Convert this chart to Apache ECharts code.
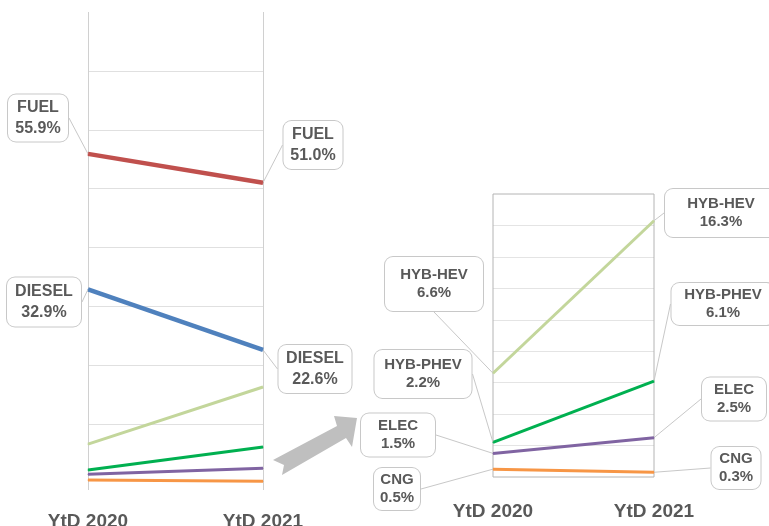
<!DOCTYPE html>
<html>
<head>
<meta charset="utf-8">
<script src="https://cdn.jsdelivr.net/npm/echarts@6/dist/echarts.min.js"></script>
<style>
  html, body { margin: 0; padding: 0; background: #fff; }
  #chart { width: 769px; height: 526px; }
</style>
</head>
<body>
<div id="chart"></div>
<script>
var categories = ['YtD 2020', 'YtD 2021'];
var fuel = [55.9, 51.0];
var diesel = [32.9, 22.6];
var hybHev = [6.6, 16.3];
var hybPhev = [2.2, 6.1];
var elec = [1.5, 2.5];
var cng = [0.5, 0.3];

// callout boxes: [centerX, centerY, width, height] for each point
var boxes = {
  FUEL: [[38, 118, 60, 47], [313, 145, 59, 48]],
  DIESEL: [[44, 302, 74, 49], [315, 369, 73, 48]],
  'HYB-HEV': [[434, 284, 98, 54], [721, 213, 112, 48]],
  'HYB-PHEV': [[423, 374, 97, 48], [723, 304, 103, 42]],
  ELEC: [[398, 435, 74, 43], [734, 399, 64, 43]],
  CNG: [[397, 489, 46, 42], [736, 468, 49, 42]]
};

var colors = {
  FUEL: '#c0504d', DIESEL: '#4f81bd', 'HYB-HEV': '#c3d69b',
  'HYB-PHEV': '#00b050', ELEC: '#8064a2', CNG: '#f79646'
};

var font = 'Liberation Sans, Arial, sans-serif';
var textColor = '#595959';

var myChart = echarts.init(document.getElementById('chart'));

function makeSeries(name, values, grid, width, withLabels) {
  var fs = grid === 0 ? 16 : 15;
  var lh = grid === 0 ? 21 : 18;
  var data = values.map(function (v, i) {
    var item = { value: v };
    if (withLabels) {
      var b = boxes[name][i];
      var pv = Math.max(0, (b[3] - 2 * lh) / 2);
      item.label = { width: b[2], padding: [pv, 0, pv, 0] };
    }
    return item;
  });
  return {
    name: name,
    type: 'line',
    xAxisIndex: grid,
    yAxisIndex: grid,
    data: data,
    symbol: 'circle',
    symbolSize: 1,
    showSymbol: true,
    itemStyle: { color: colors[name] },
    lineStyle: { color: colors[name], width: width },
    emphasis: { disabled: true },
    z: grid === 0 ? 2 : 3,
    label: {
      show: withLabels,
      formatter: function (p) {
        return p.seriesName + '\n' + p.value.toFixed(1) + '%';
      },
      fontFamily: font,
      fontWeight: 'bold',
      fontSize: fs,
      lineHeight: lh,
      color: textColor,
      align: 'center',
      verticalAlign: 'middle',
      backgroundColor: '#fff',
      borderColor: '#c8c8c8',
      borderWidth: 1,
      borderRadius: 8
    },
    labelLine: {
      show: withLabels,
      lineStyle: { color: '#c8c8c8', width: 1 }
    },
    labelLayout: withLabels ? function (params) {
      var b = boxes[name][params.dataIndex];
      return { x: b[0], y: b[1], hideOverlap: false };
    } : undefined
  };
}

var xAxisBase = {
  type: 'category',
  data: categories,
  boundaryGap: false,
  axisLine: { show: false },
  axisTick: { show: false },
  axisLabel: {
    fontFamily: font,
    fontWeight: 'bold',
    fontSize: 19,
    color: textColor
  }
};

var option = {
  animation: false,
  backgroundColor: '#fff',
  grid: [
    { left: 88, top: 12, width: 175, height: 471, outerBoundsMode: 'none' },
    { left: 493, top: 194, width: 161, height: 283, outerBoundsMode: 'none', show: true, borderColor: '#b4b4b4', borderWidth: 1, z: 1 }
  ],
  xAxis: [
    Object.assign({}, xAxisBase, {
      gridIndex: 0,
      axisTick: { show: true, length: 7, lineStyle: { color: '#d0d0d0' } },
      axisLabel: Object.assign({}, xAxisBase.axisLabel, { margin: 29 }),
      splitLine: { show: true, lineStyle: { color: '#d0d0d0', width: 1 } }
    }),
    Object.assign({}, xAxisBase, {
      gridIndex: 1,
      axisLabel: Object.assign({}, xAxisBase.axisLabel, { margin: 25 }),
      splitLine: { show: false }
    })
  ],
  yAxis: [
    {
      type: 'value', gridIndex: 0, min: 0, max: 80, interval: 10,
      axisLine: { show: false }, axisTick: { show: false }, axisLabel: { show: false },
      splitLine: { show: true, showMinLine: false, showMaxLine: false, lineStyle: { color: '#e0e0e0' } }
    },
    {
      type: 'value', gridIndex: 1, min: 0, max: 18, interval: 2,
      axisLine: { show: false }, axisTick: { show: false }, axisLabel: { show: false },
      splitLine: { show: true, showMinLine: false, showMaxLine: false, lineStyle: { color: '#e4e4e4' } }
    }
  ],
  graphic: [{
    type: 'polygon',
    shape: {
      points: [[273, 460], [337, 426], [334, 416], [357, 418], [352, 447], [346, 438], [282, 475], [284, 465]]
    },
    style: { fill: '#bfbfbf' },
    z: 10
  }],
  series: [
    makeSeries('FUEL', fuel, 0, 4.5, true),
    makeSeries('DIESEL', diesel, 0, 4.5, true),
    makeSeries('HYB-HEV', hybHev, 0, 3, false),
    makeSeries('HYB-PHEV', hybPhev, 0, 3, false),
    makeSeries('ELEC', elec, 0, 3, false),
    makeSeries('CNG', cng, 0, 3, false),
    makeSeries('HYB-HEV', hybHev, 1, 3, true),
    makeSeries('HYB-PHEV', hybPhev, 1, 3, true),
    makeSeries('ELEC', elec, 1, 3, true),
    makeSeries('CNG', cng, 1, 3, true)
  ]
};

myChart.setOption(option);
window.addEventListener('resize', function () {
  myChart.resize();
});
</script>
</body>
</html>
